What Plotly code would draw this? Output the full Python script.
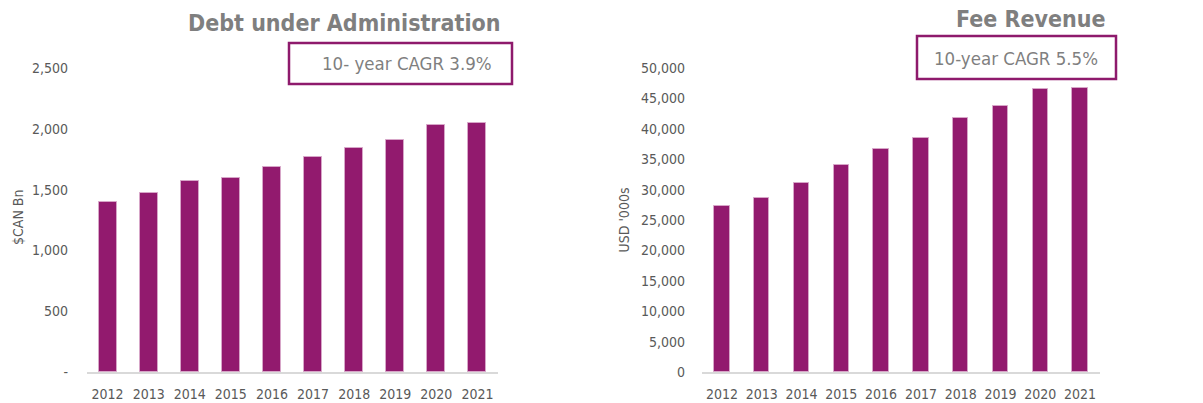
import plotly.graph_objects as go

years = ["2012", "2013", "2014", "2015", "2016", "2017", "2018", "2019", "2020", "2021"]
debt_values = [1400, 1470, 1571, 1598, 1686, 1765, 1840, 1908, 2031, 2048]
fee_values = [27300, 28570, 31140, 34050, 36680, 38540, 41780, 43700, 46490, 46760]

debt_ticks = [0, 500, 1000, 1500, 2000, 2500]
debt_ticktext = ["-", "500", "1,000", "1,500", "2,000", "2,500"]
fee_ticks = [0, 5000, 10000, 15000, 20000, 25000, 30000, 35000, 40000, 45000, 50000]
fee_ticktext = ["0", "5,000", "10,000", "15,000", "20,000", "25,000", "30,000",
                "35,000", "40,000", "45,000", "50,000"]

W, H = 1203, 403
BAR = "#921A6E"
FONT = "DejaVu Sans Condensed, DejaVu Sans, sans-serif"
TICKC = "#595959"

def px(x):
    return x / W

def py(y):
    return 1 - y / H

fig = go.Figure()
fig.add_trace(go.Bar(x=years, y=debt_values, xaxis="x", yaxis="y", width=0.44,
                     marker=dict(color=BAR, line=dict(color="#D7A6C8", width=1))))
fig.add_trace(go.Bar(x=years, y=fee_values, xaxis="x2", yaxis="y2", width=0.39,
                     marker=dict(color=BAR, line=dict(color="#D7A6C8", width=1))))

ydom = [py(372), py(68)]
axis_common = dict(showgrid=False, zeroline=False, ticks="", automargin=False,
                   tickfont=dict(family=FONT, size=14, color=TICKC))
fig.update_layout(
    template="none",
    width=W, height=H, margin=dict(l=0, r=0, t=0, b=0, pad=0),
    paper_bgcolor="white", plot_bgcolor="white", showlegend=False,
    bargap=0,
    xaxis=dict(domain=[px(87), px(498)], anchor="y", showline=True,
               linecolor="#D9D9D9", linewidth=2, ticklabelstandoff=8,
               tickmode="array", tickvals=years, **axis_common),
    yaxis=dict(domain=ydom, anchor="x", range=[0, 2500], tickvals=debt_ticks,
               ticktext=debt_ticktext, showline=False, ticklabelstandoff=18,
               **axis_common),
    xaxis2=dict(domain=[px(702), px(1100)], anchor="y2", showline=True,
                linecolor="#D9D9D9", linewidth=2, ticklabelstandoff=8,
                tickmode="array", tickvals=years, **axis_common),
    yaxis2=dict(domain=ydom, anchor="x2", range=[0, 50000], tickvals=fee_ticks,
                ticktext=fee_ticktext, showline=False, ticklabelstandoff=16,
                title=dict(text="USD '000s", font=dict(family=FONT, size=14, color=TICKC),
                           standoff=8),
                **axis_common),
)

# Left y-axis title
fig.add_annotation(x=px(18), y=py(218), xref="paper", yref="paper", xanchor="center",
                   yanchor="middle", showarrow=False, textangle=-90, text="$CAN Bn",
                   font=dict(family=FONT, size=14, color=TICKC))

# Titles
fig.add_annotation(x=px(502), y=py(23), xref="paper", yref="paper", xanchor="right",
                   yanchor="middle", showarrow=False,
                   text="<b>Debt under Administration</b>",
                   font=dict(family=FONT, size=23, color="#7F7F7F"))
fig.add_annotation(x=px(1108), y=py(19), xref="paper", yref="paper", xanchor="right",
                   yanchor="middle", showarrow=False,
                   text="<b>Fee Revenue</b>",
                   font=dict(family=FONT, size=23, color="#7F7F7F"))

# CAGR boxes
fig.add_shape(type="rect", xref="paper", yref="paper",
              x0=px(289), x1=px(512), y0=py(84), y1=py(43),
              line=dict(color="#8E1A6C", width=2.5), fillcolor="white")
fig.add_annotation(x=px(494), y=py(64), xref="paper", yref="paper", xanchor="right",
                   yanchor="middle", showarrow=False, text="10- year CAGR 3.9%",
                   font=dict(family=FONT, size=18.5, color="#7F7F7F"))
fig.add_shape(type="rect", xref="paper", yref="paper",
              x0=px(917), x1=px(1116), y0=py(79), y1=py(36),
              line=dict(color="#8E1A6C", width=2.5), fillcolor="white")
fig.add_annotation(x=px(1016), y=py(58), xref="paper", yref="paper", xanchor="center",
                   yanchor="middle", showarrow=False, text="10-year CAGR 5.5%",
                   font=dict(family=FONT, size=18.5, color="#7F7F7F"))

fig.write_html("out.html", config={"displayModeBar": False},
               post_script="document.body.style.margin='0';document.body.style.overflow='hidden';")
